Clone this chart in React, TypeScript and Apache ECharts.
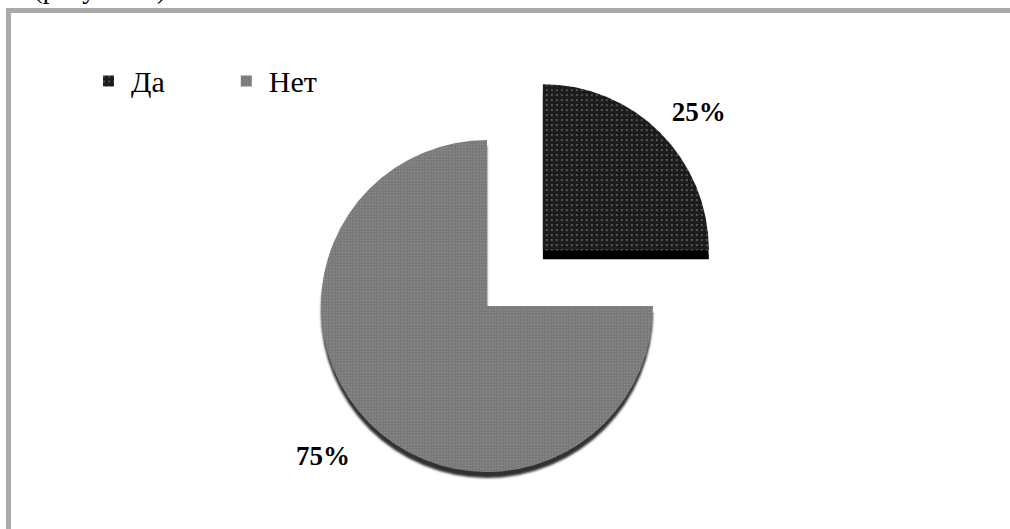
import React, { useEffect, useRef } from "react";
import * as echarts from "echarts";

const categories = ["Да", "Нет"];
const values = [25, 75];
const captionText = "ии (рисунок 3).";

export default function App() {
  const ref = useRef<HTMLDivElement>(null);
  useEffect(() => {
    if (!ref.current) return;
    const chart = echarts.init(ref.current, null, { renderer: "svg" });
    const serif = "Liberation Serif";
    const colors = ["#1c1c1c", "#7b7b7b"];
    const decals = [
      { symbol: "rect", symbolSize: 1, color: "rgba(255,255,255,0.22)", dashArrayX: [1.3, 2.4], dashArrayY: [1.3, 2.4] },
      { symbol: "rect", symbolSize: 1, color: "rgba(255,255,255,0.16)", dashArrayX: [1, 1.5], dashArrayY: [1, 1.5] },
    ];
    const shadows = [
      { shadowColor: "#000", shadowOffsetY: 9, shadowBlur: 0 },
      { shadowColor: "#333", shadowOffsetY: 6, shadowBlur: 2 },
    ];
    const labelCfg = [
      { lineLen: 29, distance: -9 },
      { lineLen: 46, distance: -13 },
    ];
    const data = categories.map((name, i) => ({
      name,
      value: values[i],
      selected: i === 0,
      itemStyle: { color: colors[i], decal: decals[i], ...shadows[i] },
      label: { distanceToLabelLine: labelCfg[i].distance },
      labelLine: { show: false, length: labelCfg[i].lineLen, length2: 0 },
    }));
    chart.setOption({
      animation: false,
      backgroundColor: "#fff",
      textStyle: { fontFamily: serif },
      graphic: [
        {
          type: "rect",
          shape: { x: 8.5, y: 10.5, width: 1100, height: 600 },
          style: { fill: "none", stroke: "#a9a9a9", lineWidth: 5 },
          silent: true,
        },
        {
          type: "text",
          x: -2,
          y: -11,
          style: {
            text: captionText,
            fontFamily: serif,
            fontSize: 27,
            fill: "#000",
            verticalAlign: "middle",
          },
          silent: true,
        },
      ],
      legend: {
        left: 98,
        top: 61,
        icon: "rect",
        itemWidth: 11,
        itemHeight: 11,
        itemGap: 76,
        selectedMode: false,
        formatter: (name: string) => "\u2009\u2009" + name,
        textStyle: {
          fontFamily: serif,
          fontSize: 30,
          color: "#000",
        },
        data: categories,
      },
      series: [
        {
          type: "pie",
          center: [487, 306],
          radius: 166,
          startAngle: 90,
          clockwise: true,
          selectedMode: "single",
          selectedOffset: 79,
          avoidLabelOverlap: false,
          label: {
            show: true,
            position: "outside",
            formatter: "{d}%",
            fontFamily: serif,
            fontWeight: "bold",
            fontSize: 27,
            color: "#000",
          },
          labelLine: { show: false },
          emphasis: { disabled: true },
          data,
        },
      ],
    });
    return () => chart.dispose();
  }, []);
  return (
    <div
      ref={ref}
      style={{ position: "fixed", left: 0, top: 0, width: 1010, height: 529 }}
    />
  );
}
